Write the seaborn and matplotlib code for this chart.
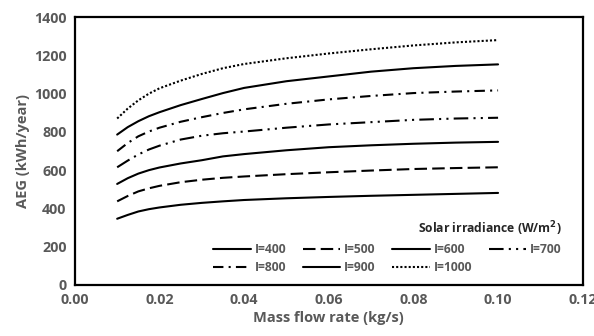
import matplotlib
matplotlib.use("Agg")
import matplotlib.pyplot as plt
import seaborn as sns
import pandas as pd

flow = [0.01, 0.0125, 0.015, 0.0175, 0.02, 0.025, 0.03, 0.035, 0.04, 0.05, 0.06, 0.07, 0.08, 0.09, 0.10]
aeg_400 = [346, 366, 384, 396, 405, 419, 429, 437, 444, 453, 460, 466, 471, 476, 481]
aeg_500 = [437, 465, 489, 505, 518, 537, 550, 560, 567, 579, 589, 598, 606, 611, 615]
aeg_600 = [528, 558, 582, 600, 614, 635, 652, 672, 684, 704, 720, 730, 738, 744, 748]
aeg_700 = [615, 650, 682, 708, 728, 760, 780, 793, 802, 822, 839, 851, 863, 870, 874]
aeg_800 = [699, 742, 777, 802, 822, 853, 877, 899, 918, 947, 970, 988, 1003, 1011, 1017]
aeg_900 = [786, 825, 856, 882, 903, 940, 972, 1003, 1030, 1065, 1090, 1115, 1133, 1145, 1153]
aeg_1000 = [870, 922, 965, 1000, 1028, 1068, 1103, 1133, 1155, 1185, 1210, 1232, 1252, 1268, 1280]
labels = ["I=400", "I=500", "I=600", "I=700", "I=800", "I=900", "I=1000"]
series = [aeg_400, aeg_500, aeg_600, aeg_700, aeg_800, aeg_900, aeg_1000]

rows = []
for lab, vals in zip(labels, series):
    for x, v in zip(flow, vals):
        rows.append({"flow": x, "aeg": v, "label": lab})
df = pd.DataFrame(rows)

sns.set_style("white")
plt.rcParams["font.family"] = ["Open Sans", "DejaVu Sans"]

dashes = {
    "I=400": "",
    "I=500": (6, 2.5),
    "I=600": "",
    "I=700": (7, 2.5, 1, 2.5, 1, 2.5),
    "I=800": (5, 2.5, 1, 2.5),
    "I=900": "",
    "I=1000": (1, 1),
}
palette = {lab: "black" for lab in labels}

fig = plt.figure(figsize=(5.94, 3.36), dpi=100)
ax = fig.add_axes([0.126, 0.152, 0.855, 0.797])
sns.lineplot(data=df, x="flow", y="aeg", hue="label", style="label",
             dashes=dashes, palette=palette, hue_order=labels, style_order=labels,
             linewidth=1.5, ax=ax, legend=True)

ax.set_xlim(0, 0.12)
ax.set_ylim(0, 1400)
ax.set_xticks([0, 0.02, 0.04, 0.06, 0.08, 0.10, 0.12])
ax.set_xticklabels(["0.00", "0.02", "0.04", "0.06", "0.08", "0.10", "0.12"])
ax.set_yticks(range(0, 1401, 200))
grey = "#595959"
ax.tick_params(axis="both", length=0, labelsize=10.3, colors=grey, pad=6)
for t in ax.get_xticklabels() + ax.get_yticklabels():
    t.set_fontweight("bold")
ax.set_xlabel("Mass flow rate (kg/s)", fontsize=10.5, fontweight="bold", color=grey, labelpad=3)
ax.set_ylabel("AEG (kWh/year)", fontsize=10.5, fontweight="bold", color=grey, labelpad=3)
for s in ax.spines.values():
    s.set_color("black")
    s.set_linewidth(1.6)

handles, labs = ax.get_legend_handles_labels()
hmap = dict(zip(labs, handles))
order = ["I=400", "I=800", "I=500", "I=900", "I=600", "I=1000", "I=700"]
leg = ax.legend([hmap[k] for k in order], order, ncol=4, loc="lower right",
                bbox_to_anchor=(0.98, 0.0), frameon=False,
                title="Solar irradiance (W/m$^{\\mathbf{2}}$)",
                prop={"size": 8.7, "weight": "bold"},
                handlelength=3.1, handletextpad=0.3, columnspacing=1.4,
                labelspacing=0.4, alignment="right")
leg.get_title().set_fontsize(8.7)
leg.get_title().set_fontweight("bold")
for t in leg.get_texts():
    t.set_color(grey)

fig.savefig("out.png", dpi=100)
